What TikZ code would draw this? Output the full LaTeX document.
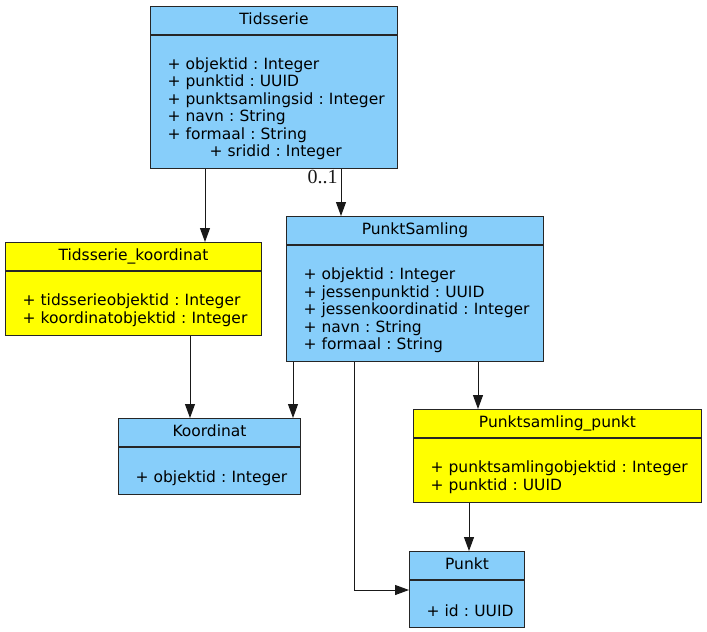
\documentclass[tikz,border=0pt]{standalone}
\usepackage{fontspec}
\setmainfont{DejaVu Sans}
\newfontfamily\lblfont{Liberation Serif}
\usetikzlibrary{arrows.meta}
\frenchspacing

\definecolor{clsblue}{HTML}{87CEFA}
\definecolor{clsyellow}{HTML}{FFFF00}
\newcommand\headH{28pt}
\newcommand\attr[1]{\mbox{+ #1}}
\newcommand\gap{\rule{0pt}{8pt}}

\tikzset{
  box/.style={draw=black!85, line width=1pt, anchor=north west,
    font=\fontsize{15.5pt}{17.5pt}\selectfont},
  head/.style={box, minimum height=\headH, inner sep=0pt, execute at begin node=\strut},
  body/.style={box, align=left, inner xsep=17pt, inner ysep=0pt},
  blue/.style={fill=clsblue},
  yellow/.style={fill=clsyellow},
  arr/.style={-{Triangle[length=14pt,width=10pt]}, line width=1pt, black!90},
}

\begin{document}
\begin{tikzpicture}

  \useasboundingbox (0,0) rectangle (707pt,-632pt);

  %% classes
  \node[head, blue, minimum width=247pt] (tidsH) at (150pt,-6pt) {Tidsserie};
  \node[body, blue, text width=213pt, minimum height=133pt] (tidsB) at (tidsH.south west)
    {\gap\\\attr{objektid : Integer}\\\attr{punktid : UUID}\\\attr{punktsamlingsid : Integer}\\\attr{navn : String}\\\attr{formaal : String}\\\hspace*{42pt}\attr{sridid : Integer}};

  \node[head, yellow, minimum width=256pt] (tkH) at (5pt,-242pt) {Tidsserie\_koordinat};
  \node[body, yellow, text width=222pt, minimum height=64pt] (tkB) at (tkH.south west)
    {\gap\\\attr{tidsserieobjektid : Integer}\\\attr{koordinatobjektid : Integer}};

  \node[head, blue, minimum width=257pt] (psH) at (286pt,-216pt) {PunktSamling};
  \node[body, blue, text width=223pt, minimum height=116pt] (psB) at (psH.south west)
    {\gap\\\attr{objektid : Integer}\\\attr{jessenpunktid : UUID}\\\attr{jessenkoordinatid : Integer}\\\attr{navn : String}\\\attr{formaal : String}};

  \node[head, blue, minimum width=182pt] (koH) at (118pt,-418pt) {Koordinat};
  \node[body, blue, text width=148pt, minimum height=47pt] (koB) at (koH.south west)
    {\gap\\\attr{objektid : Integer}};

  \node[head, yellow, minimum width=288pt] (ppH) at (413pt,-409pt) {Punktsamling\_punkt};
  \node[body, yellow, text width=254pt, minimum height=64pt] (ppB) at (ppH.south west)
    {\gap\\\attr{punktsamlingobjektid : Integer}\\\attr{punktid : UUID}};

  \node[head, blue, minimum width=115pt] (pH) at (409pt,-551pt) {Punkt};
  \node[body, blue, text width=81pt, minimum height=47pt] (pB) at (pH.south west)
    {\gap\\\attr{id : UUID}};

  %% connectors
  \draw[arr] ([xshift=55pt]tidsB.south west) -- ([xshift=200pt]tkH.north west); %% tids tk
  \draw[arr] ([xshift=191pt]tidsB.south west) -- node[pos=0.16, left, inner xsep=3pt, inner ysep=0pt,
    font=\lblfont\fontsize{20pt}{20pt}\selectfont]{0..1} ([xshift=55pt]psH.north west); %% tids ps
  \draw[arr] ([xshift=185pt]tkB.south west) -- ([xshift=72pt]koH.north west); %% tk ko
  \draw[arr] ([xshift=7pt]psB.south west) -- ([xshift=175pt]koH.north west); %% ps ko
  \draw[arr] ([xshift=192pt]psB.south west) -- ([xshift=65pt]ppH.north west); %% ps pp
  \draw[arr] ([xshift=68pt]psB.south west) |- ([yshift=-10pt]pB.north west); %% ps p
  \draw[arr] ([xshift=56pt]ppB.south west) -- ([xshift=60pt]pH.north west); %% pp p

\end{tikzpicture}
\end{document}
